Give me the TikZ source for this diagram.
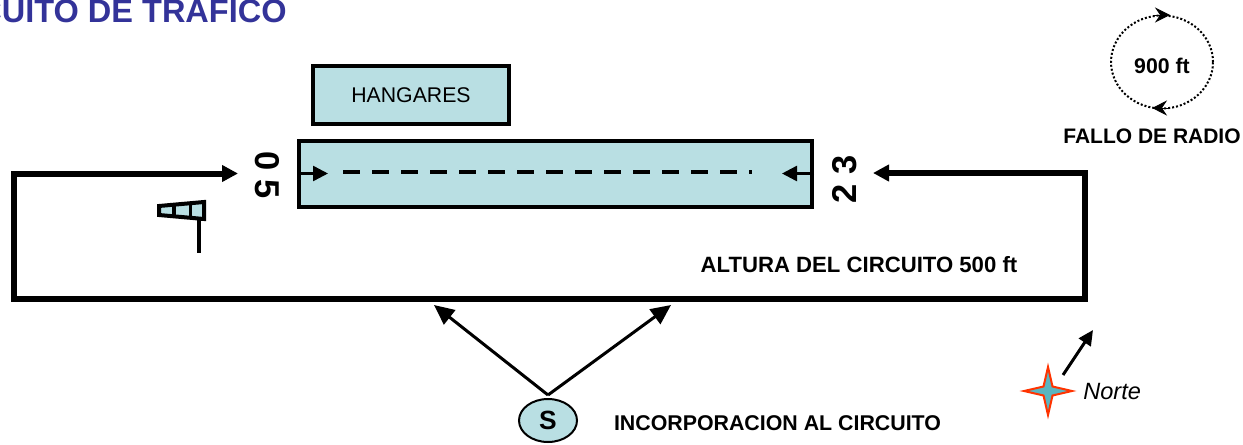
\documentclass[tikz,border=0pt]{standalone}
\usepackage{fontspec}
\setmainfont{Liberation Sans}
\usepackage{xcolor}
\usetikzlibrary{arrows.meta}
\usetikzlibrary{shapes.geometric}
\definecolor{hielo}{HTML}{B9DFE3}
\definecolor{azulTitulo}{HTML}{333399}
\definecolor{rojoEstrella}{HTML}{FF3300}
\definecolor{azulEstrella}{HTML}{5BB5C0}
\tikzset{
  caja/.style={draw=black,fill=hielo,line width=0.08cm,inner sep=0pt},
  rotulo/.style={inner sep=0pt,font=\bfseries\fontsize{11.95}{14}\selectfont},
  pista/.style={inner sep=0pt,font=\bfseries\fontsize{19.6}{22}\selectfont},
  circuito/.style={line width=0.12cm,{Triangle[length=0.32cm,width=0.32cm]}-{Triangle[length=0.32cm,width=0.32cm]}},
  flecha/.style={line width=0.06cm,-{Triangle[length=0.4cm,width=0.36cm]}},
  fina/.style={line width=0.05cm,-{Triangle[length=0.3cm,width=0.3cm]}},
  giro/.style={line width=0.02cm,-{Stealth[length=0.3cm,width=0.3cm,inset=0.1cm]}}
}
\begin{document}
\begin{tikzpicture}
\useasboundingbox (0,0) rectangle (24.86,8.88);

\node (titulo) [anchor=base east,inner sep=0pt,text=azulTitulo,font=\bfseries\fontsize{18.5}{22}\selectfont] at (5.74,8.44) {CUITO DE TRAFICO};

\node (hangares) [caja,minimum width=3.92cm,minimum height=1.16cm,font=\fontsize{12.1}{15}\selectfont] at (8.22,6.98) {HANGARES};
\node (runway) [caja,minimum width=10.26cm,minimum height=1.32cm] at (11.11,5.41) {};
\node (cero) [pista,rotate=-90] at (5.34,5.38) {0 5};
\node (dos) [pista,rotate=90] at (16.90,5.29) {2 3};

% eje de pista
\coordinate (ejeA) at (6.86,5.45);
\coordinate (ejeB) at (15.04,5.45);
\draw[line width=0.08cm,dash pattern=on 0.34cm off 0.24cm] (ejeA) -- (ejeB);
\coordinate (tipIzq) at (6.56,5.41);
\coordinate (tipDer) at (15.64,5.41);
\draw[fina] (runway.west) -- (tipIzq);
\draw[fina] (runway.east) -- (tipDer);

% circuito
\coordinate (entradaIzq) at (4.76,5.41);
\coordinate (esqA) at (0.28,5.41);
\coordinate (esqB) at (0.28,2.90);
\coordinate (esqC) at (21.70,2.90);
\coordinate (esqD) at (21.70,5.42);
\coordinate (entradaDer) at (17.46,5.42);
\draw[circuito] (entradaIzq) -- (esqA) -- (esqB) -- (esqC) -- (esqD) -- (entradaDer);
\node (altura) [rotulo,font=\bfseries\fontsize{12.6}{14}\selectfont] at (17.18,3.58) {ALTURA DEL CIRCUITO 500 ft};

% manga de viento
\filldraw[fill=hielo,line width=0.08cm] (3.18,4.76) -- (4.08,4.84) -- (4.08,4.50) -- (3.18,4.58) -- cycle;
\draw[line width=0.08cm] (3.48,4.786) -- (3.48,4.554);
\draw[line width=0.06cm] (3.80,4.816) -- (3.80,4.524);
\draw[line width=0.08cm] (3.98,4.48) -- (3.98,3.82);

% fallo de radio
\node (espera) [draw,ellipse,inner sep=0pt,line width=0.04cm,dash pattern=on 0.04cm off 0.04cm,minimum width=2.04cm,minimum height=1.86cm] at (23.24,7.64) {};
\coordinate (esperaA) at (23.08,8.58);
\coordinate (esperaB) at (23.40,8.58);
\coordinate (esperaC) at (23.38,6.72);
\coordinate (esperaD) at (23.04,6.72);
\draw[giro] (esperaA) -- (esperaB);
\draw[giro] (esperaC) -- (esperaD);
\node (novecientos) [rotulo,font=\bfseries\fontsize{12.1}{14}\selectfont] at (23.24,7.57) {900 ft};
\node (fallo) [rotulo] at (23.04,6.15) {FALLO DE RADIO};

% incorporacion
\node (ovalS) [draw,ellipse,fill=hielo,inner sep=0pt,line width=0.04cm,minimum width=1.16cm,minimum height=0.86cm,font=\bfseries\fontsize{15}{18}\selectfont] at (10.96,0.47) {S};
\coordinate (salidaS) at (10.96,0.98);
\coordinate (llegaA) at (8.68,2.78);
\coordinate (llegaB) at (13.42,2.78);
\draw[flecha] (salidaS) -- (llegaA);
\draw[flecha] (salidaS) -- (llegaB);
\node (incorporacion) [rotulo,font=\bfseries\fontsize{12.15}{14}\selectfont] at (15.55,0.42) {INCORPORACION AL CIRCUITO};

% norte
\coordinate (estrella) at (20.96,1.06);
\filldraw[fill=azulEstrella,draw=rojoEstrella,line width=0.04cm] (20.96,1.54) -- (21.05,1.15) -- (21.44,1.06) -- (21.05,0.97) -- (20.96,0.58) -- (20.87,0.97) -- (20.48,1.06) -- (20.87,1.15) -- cycle;
\coordinate (norteA) at (21.26,1.38);
\coordinate (norteB) at (21.86,2.28);
\draw[line width=0.06cm,-{Triangle[length=0.3cm,width=0.28cm]}] (norteA) -- (norteB);
\node (norte) [anchor=west,inner sep=0pt,font=\itshape\fontsize{13.4}{15}\selectfont] at (21.66,1.04) {Norte};

\end{tikzpicture}
\end{document}
